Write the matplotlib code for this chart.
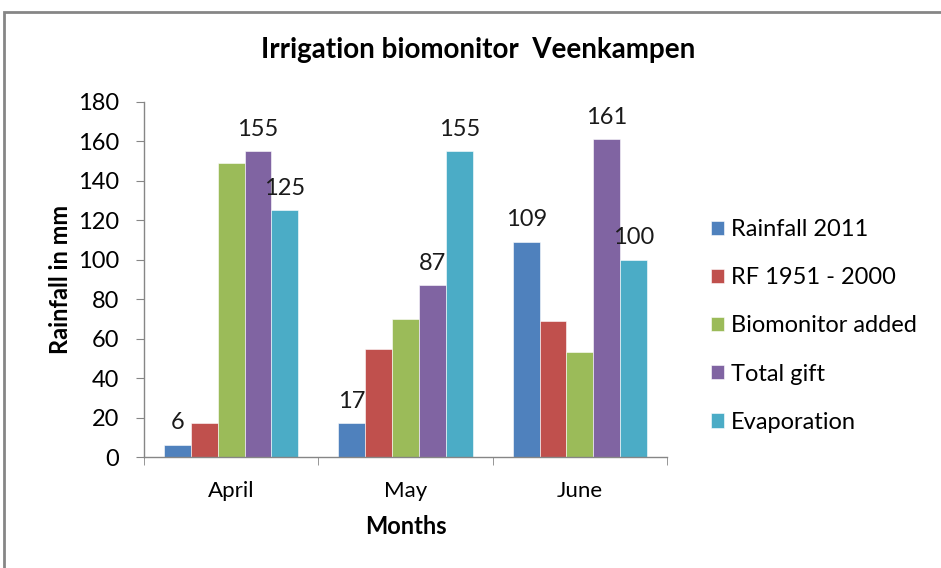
import matplotlib
matplotlib.use("Agg")
import matplotlib.pyplot as plt
import numpy as np
from matplotlib.patches import Rectangle

months = ["April", "May", "June"]
series_names = ["Rainfall 2011", "RF 1951 - 2000", "Biomonitor added",
                "Total gift", "Evaporation"]
rainfall_2011 = [6, 17, 109]
rf_1951_2000 = [17, 55, 69]
biomonitor_added = [149, 70, 53]
total_gift = [155, 87, 161]
evaporation = [125, 155, 100]
series_values = [rainfall_2011, rf_1951_2000, biomonitor_added,
                 total_gift, evaporation]
labelled = {"Rainfall 2011", "Total gift", "Evaporation"}

colors = ["#4F81BD", "#C0504D", "#9BBB59", "#8064A2", "#4BACC6"]
axis_grey = "#868686"

plt.rcParams["font.family"] = ["Lato", "DejaVu Sans"]

fig = plt.figure(figsize=(9.41, 5.68), dpi=100)
ax = fig.add_axes([144 / 941, 1 - 457 / 568, (667 - 144) / 941, (457 - 102) / 568])

# outer chart frame (cut off on right and bottom, like the screenshot)
fig.patches.append(Rectangle((4 / 941, -0.1), 1.2, 1 - 12 / 568 + 0.1,
                             transform=fig.transFigure, fill=False,
                             edgecolor=axis_grey, linewidth=2))

n = len(series_names)
width = 1 / (n + 1.5)
x = np.arange(len(months))
for i, (name, vals, col) in enumerate(zip(series_names, series_values, colors)):
    pos = x + (i - (n - 1) / 2) * width
    bars = ax.bar(pos, vals, width, color=col, label=name,
                  edgecolor="white", linewidth=0.4)
    if name in labelled:
        for b, v in zip(bars, vals):
            ax.annotate(str(v), (b.get_x() + b.get_width() / 2, v),
                        xytext=(0, 8.5), textcoords="offset points",
                        ha="center", va="bottom", fontsize=17, color="#1a1a1a")

ax.set_xlim(-0.5, len(months) - 0.5)
ax.set_ylim(0, 180)
ax.set_yticks(range(0, 181, 20))
ax.set_xticks(x)
ax.set_xticklabels(months)
ax.set_xticks(np.arange(-0.5, len(months), 1), minor=True)
ax.tick_params(axis="x", which="major", length=0, pad=17, labelsize=16)
ax.tick_params(axis="x", which="minor", length=6, color=axis_grey, direction="out")
ax.tick_params(axis="y", length=6, color=axis_grey, labelsize=17, pad=12)

for side in ("top", "right"):
    ax.spines[side].set_visible(False)
for side in ("left", "bottom"):
    ax.spines[side].set_color(axis_grey)
    ax.spines[side].set_linewidth(1.0)

ax.set_ylabel("Rainfall in mm", fontsize=17, fontweight="bold", labelpad=4)
ax.set_xlabel("Months", fontsize=17, fontweight="bold", labelpad=10)
fig.text(478 / 941, 1 - 50 / 568, "Irrigation biomonitor  Veenkampen",
         ha="center", va="center", fontsize=20, fontweight="bold")

ax.legend(loc="center left", bbox_to_anchor=(690 / 941, 1 - 326 / 568),
          bbox_transform=fig.transFigure, frameon=False, fontsize=17,
          handlelength=0.55, handleheight=0.55, handletextpad=0.3,
          labelspacing=1.15)

fig.savefig("out.png", dpi=100)
